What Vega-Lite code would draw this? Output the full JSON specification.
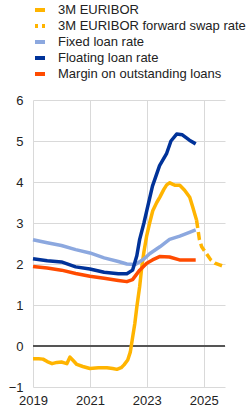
{
  "$schema": "https://vega.github.io/schema/vega-lite/v6.json",
  "autosize": "none",
  "width": 192,
  "height": 287,
  "padding": {"left": 33, "top": 100, "right": 25, "bottom": 27},
  "background": "white",
  "config": {
    "font": "Liberation Sans",
    "view": {"stroke": null},
    "axis": {"labelFont": "Liberation Sans", "labelFontSize": 13, "labelColor": "#222222", "gridColor": "#d9d9d9", "gridWidth": 1, "domain": false, "ticks": false, "title": null},
    "legend": {"labelFont": "Liberation Sans", "labelFontSize": 13, "labelColor": "#222222"}
  },
  "datasets": {
    "rates": [
      {"s": "3M EURIBOR", "t": 2019.0, "v": -0.31},
      {"s": "3M EURIBOR", "t": 2019.2, "v": -0.31},
      {"s": "3M EURIBOR", "t": 2019.35, "v": -0.32},
      {"s": "3M EURIBOR", "t": 2019.5, "v": -0.38},
      {"s": "3M EURIBOR", "t": 2019.67, "v": -0.43},
      {"s": "3M EURIBOR", "t": 2019.84, "v": -0.4},
      {"s": "3M EURIBOR", "t": 2020.0, "v": -0.39},
      {"s": "3M EURIBOR", "t": 2020.1, "v": -0.41},
      {"s": "3M EURIBOR", "t": 2020.19, "v": -0.43},
      {"s": "3M EURIBOR", "t": 2020.3, "v": -0.27},
      {"s": "3M EURIBOR", "t": 2020.42, "v": -0.36},
      {"s": "3M EURIBOR", "t": 2020.54, "v": -0.45},
      {"s": "3M EURIBOR", "t": 2020.75, "v": -0.5},
      {"s": "3M EURIBOR", "t": 2021.0, "v": -0.55},
      {"s": "3M EURIBOR", "t": 2021.3, "v": -0.53},
      {"s": "3M EURIBOR", "t": 2021.6, "v": -0.53},
      {"s": "3M EURIBOR", "t": 2021.8, "v": -0.55},
      {"s": "3M EURIBOR", "t": 2021.95, "v": -0.57},
      {"s": "3M EURIBOR", "t": 2022.1, "v": -0.53},
      {"s": "3M EURIBOR", "t": 2022.2, "v": -0.46},
      {"s": "3M EURIBOR", "t": 2022.33, "v": -0.34},
      {"s": "3M EURIBOR", "t": 2022.42, "v": -0.15},
      {"s": "3M EURIBOR", "t": 2022.5, "v": 0.2},
      {"s": "3M EURIBOR", "t": 2022.58, "v": 0.55},
      {"s": "3M EURIBOR", "t": 2022.65, "v": 0.95},
      {"s": "3M EURIBOR", "t": 2022.75, "v": 1.45},
      {"s": "3M EURIBOR", "t": 2022.82, "v": 1.9},
      {"s": "3M EURIBOR", "t": 2022.9, "v": 2.3},
      {"s": "3M EURIBOR", "t": 2023.0, "v": 2.7},
      {"s": "3M EURIBOR", "t": 2023.1, "v": 3.0},
      {"s": "3M EURIBOR", "t": 2023.21, "v": 3.3},
      {"s": "3M EURIBOR", "t": 2023.35, "v": 3.5},
      {"s": "3M EURIBOR", "t": 2023.46, "v": 3.63},
      {"s": "3M EURIBOR", "t": 2023.6, "v": 3.82},
      {"s": "3M EURIBOR", "t": 2023.7, "v": 3.93},
      {"s": "3M EURIBOR", "t": 2023.81, "v": 3.98},
      {"s": "3M EURIBOR", "t": 2023.9, "v": 3.95},
      {"s": "3M EURIBOR", "t": 2024.0, "v": 3.92},
      {"s": "3M EURIBOR", "t": 2024.16, "v": 3.92},
      {"s": "3M EURIBOR", "t": 2024.33, "v": 3.8},
      {"s": "3M EURIBOR", "t": 2024.51, "v": 3.63},
      {"s": "3M EURIBOR", "t": 2024.61, "v": 3.4},
      {"s": "3M EURIBOR", "t": 2024.75, "v": 3.07},
      {"s": "3M EURIBOR forward swap rate", "t": 2024.75, "v": 3.07},
      {"s": "3M EURIBOR forward swap rate", "t": 2024.85, "v": 2.6},
      {"s": "3M EURIBOR forward swap rate", "t": 2024.93, "v": 2.42},
      {"s": "3M EURIBOR forward swap rate", "t": 2025.1, "v": 2.25},
      {"s": "3M EURIBOR forward swap rate", "t": 2025.25, "v": 2.1},
      {"s": "3M EURIBOR forward swap rate", "t": 2025.4, "v": 2.02},
      {"s": "3M EURIBOR forward swap rate", "t": 2025.56, "v": 1.98},
      {"s": "3M EURIBOR forward swap rate", "t": 2025.75, "v": 1.93},
      {"s": "Fixed loan rate", "t": 2019.0, "v": 2.59},
      {"s": "Fixed loan rate", "t": 2019.5, "v": 2.52},
      {"s": "Fixed loan rate", "t": 2020.0, "v": 2.45},
      {"s": "Fixed loan rate", "t": 2020.5, "v": 2.35},
      {"s": "Fixed loan rate", "t": 2021.0, "v": 2.27},
      {"s": "Fixed loan rate", "t": 2021.5, "v": 2.15},
      {"s": "Fixed loan rate", "t": 2022.0, "v": 2.06},
      {"s": "Fixed loan rate", "t": 2022.3, "v": 2.0},
      {"s": "Fixed loan rate", "t": 2022.6, "v": 1.99},
      {"s": "Fixed loan rate", "t": 2022.9, "v": 2.12},
      {"s": "Fixed loan rate", "t": 2023.1, "v": 2.25},
      {"s": "Fixed loan rate", "t": 2023.46, "v": 2.42},
      {"s": "Fixed loan rate", "t": 2023.8, "v": 2.6},
      {"s": "Fixed loan rate", "t": 2024.16, "v": 2.68},
      {"s": "Fixed loan rate", "t": 2024.5, "v": 2.77},
      {"s": "Fixed loan rate", "t": 2024.72, "v": 2.83},
      {"s": "Floating loan rate", "t": 2019.0, "v": 2.13},
      {"s": "Floating loan rate", "t": 2019.5, "v": 2.08},
      {"s": "Floating loan rate", "t": 2020.0, "v": 2.05},
      {"s": "Floating loan rate", "t": 2020.5, "v": 1.93},
      {"s": "Floating loan rate", "t": 2021.0, "v": 1.88},
      {"s": "Floating loan rate", "t": 2021.5, "v": 1.8},
      {"s": "Floating loan rate", "t": 2022.0, "v": 1.76},
      {"s": "Floating loan rate", "t": 2022.3, "v": 1.76},
      {"s": "Floating loan rate", "t": 2022.5, "v": 1.85},
      {"s": "Floating loan rate", "t": 2022.65, "v": 2.2},
      {"s": "Floating loan rate", "t": 2022.75, "v": 2.6},
      {"s": "Floating loan rate", "t": 2022.9, "v": 3.0},
      {"s": "Floating loan rate", "t": 2023.0, "v": 3.3},
      {"s": "Floating loan rate", "t": 2023.2, "v": 3.9},
      {"s": "Floating loan rate", "t": 2023.45, "v": 4.4},
      {"s": "Floating loan rate", "t": 2023.7, "v": 4.7},
      {"s": "Floating loan rate", "t": 2023.85, "v": 5.0},
      {"s": "Floating loan rate", "t": 2024.05, "v": 5.17},
      {"s": "Floating loan rate", "t": 2024.25, "v": 5.15},
      {"s": "Floating loan rate", "t": 2024.5, "v": 5.02},
      {"s": "Floating loan rate", "t": 2024.72, "v": 4.93},
      {"s": "Margin on outstanding loans", "t": 2019.0, "v": 1.94},
      {"s": "Margin on outstanding loans", "t": 2019.5, "v": 1.9},
      {"s": "Margin on outstanding loans", "t": 2020.0, "v": 1.85},
      {"s": "Margin on outstanding loans", "t": 2020.5, "v": 1.77},
      {"s": "Margin on outstanding loans", "t": 2021.0, "v": 1.7},
      {"s": "Margin on outstanding loans", "t": 2021.5, "v": 1.65},
      {"s": "Margin on outstanding loans", "t": 2022.0, "v": 1.6},
      {"s": "Margin on outstanding loans", "t": 2022.3, "v": 1.57},
      {"s": "Margin on outstanding loans", "t": 2022.5, "v": 1.62},
      {"s": "Margin on outstanding loans", "t": 2022.75, "v": 1.85},
      {"s": "Margin on outstanding loans", "t": 2023.0, "v": 2.02},
      {"s": "Margin on outstanding loans", "t": 2023.2, "v": 2.1},
      {"s": "Margin on outstanding loans", "t": 2023.45, "v": 2.18},
      {"s": "Margin on outstanding loans", "t": 2023.8, "v": 2.17},
      {"s": "Margin on outstanding loans", "t": 2024.15, "v": 2.1},
      {"s": "Margin on outstanding loans", "t": 2024.72, "v": 2.1}
    ]
  },
  "layer": [
    {
      "data": {"values": [{"z": 0}]},
      "mark": {"type": "rule", "color": "#555555", "strokeWidth": 2},
      "encoding": {
        "y": {"field": "z", "type": "quantitative", "scale": {"domain": [-1, 6]}}
      }
    },
    {
      "data": {"name": "rates"},
      "transform": [{"filter": "datum.s !== '3M EURIBOR forward swap rate'"}],
      "mark": {"type": "line", "strokeWidth": 3.5, "strokeJoin": "round"},
      "encoding": {
        "x": {"field": "t", "type": "quantitative", "scale": {"domain": [2019, 2025.75], "nice": false, "zero": false},
              "axis": {"values": [2019, 2021, 2023, 2025], "format": "d", "labelPadding": 7, "labelFlush": false, "grid": true}},
        "y": {"field": "v", "type": "quantitative", "scale": {"domain": [-1, 6], "nice": false},
              "axis": {"values": [-1, 0, 1, 2, 3, 4, 5, 6], "labelPadding": 10, "grid": true}},
        "color": {"field": "s", "type": "nominal",
          "scale": {"domain": ["3M EURIBOR", "3M EURIBOR forward swap rate", "Fixed loan rate", "Floating loan rate", "Margin on outstanding loans"],
                    "range": ["#FFB400", "#FFB400", "#8CA8DF", "#003299", "#FF4B00"]},
          "legend": {"title": null, "orient": "top", "direction": "vertical", "symbolType": "stroke", "symbolSize": 100, "symbolStrokeWidth": 4, "labelOffset": 11, "labelLimit": 400, "rowPadding": 0, "offset": 18, "padding": 0,
            "encode": {"symbols": {"update": {"strokeDash": {"signal": "datum.value === '3M EURIBOR forward swap rate' ? [3, 4] : [1, 0]"}}}}}},
        "detail": {"field": "s"},
        "order": {"field": "t", "type": "quantitative"}
      }
    },
    {
      "data": {"name": "rates"},
      "transform": [{"filter": "datum.s === '3M EURIBOR forward swap rate'"}],
      "mark": {"type": "line", "strokeWidth": 3.5, "strokeDash": [8, 4]},
      "encoding": {
        "x": {"field": "t", "type": "quantitative"},
        "y": {"field": "v", "type": "quantitative"},
        "color": {"field": "s", "type": "nominal"},
        "order": {"field": "t", "type": "quantitative"}
      }
    }
  ]
}
